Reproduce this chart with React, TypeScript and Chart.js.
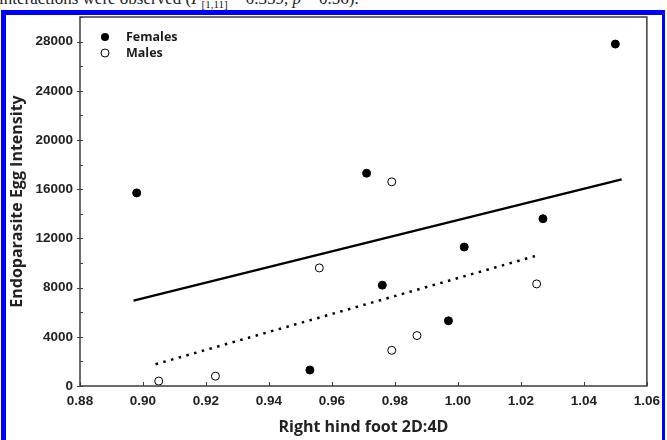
import React, { useEffect, useRef } from 'react';
import { Chart, registerables } from 'chart.js';
Chart.register(...registerables);

// Data
const femaleX = [0.898, 0.971, 1.05, 1.002, 0.976, 0.997, 0.953, 1.027];
const femaleY = [15700, 17300, 27800, 11300, 8200, 5300, 1300, 13600];
const maleX = [0.905, 0.923, 0.956, 0.979, 0.979, 0.987, 1.025];
const maleY = [400, 800, 9600, 16600, 2900, 4100, 8300];
const femaleFitX = [0.897, 1.052];
const femaleFitY = [6940, 16800];
const maleFitX = [0.904, 1.0245];
const maleFitY = [1770, 10560];
const yLabelValues = [0, 4000, 8000, 12000, 16000, 20000, 24000, 28000];
const xLabelValues = [0.88, 0.9, 0.92, 0.94, 0.96, 0.98, 1.0, 1.02, 1.04, 1.06];
const legendLabels = ['Females', 'Males'];

const zip = (xs: number[], ys: number[]) => xs.map((x, i) => ({ x, y: ys[i] }));

const framePlugin = {
  id: 'frame',
  afterDraw(chart: any) {
    const { ctx, chartArea: a, scales } = chart;
    const x = scales.x;
    const y = scales.y;
    ctx.save();
    ctx.strokeStyle = '#3c3c3c';
    ctx.lineWidth = 1.5;
    ctx.strokeRect(a.left, a.top, a.right - a.left, a.bottom - a.top);
    ctx.lineWidth = 1;
    ctx.beginPath();
    x.ticks.forEach((t: any, i: number) => {
      const px = Math.round(x.getPixelForTick(i)) + 0.5;
      ctx.moveTo(px, a.bottom);
      ctx.lineTo(px, a.bottom - 4);
    });
    y.ticks.forEach((t: any, i: number) => {
      const py = Math.round(y.getPixelForTick(i)) + 0.5;
      const major = yLabelValues.includes(t.value);
      ctx.moveTo(a.left - (major ? 3 : 0), py);
      ctx.lineTo(a.left + 3, py);
    });
    ctx.stroke();
    // legend
    const lx = a.left + 25;
    const ly = a.top + 20;
    ctx.font = 'bold 12.5px "Open Sans"';
    ctx.textBaseline = 'middle';
    ctx.fillStyle = '#1a1a1a';
    legendLabels.forEach((lab, i) => {
      const yy = ly + i * 16;
      ctx.beginPath();
      ctx.arc(lx, yy, 4, 0, Math.PI * 2);
      if (i === 0) {
        ctx.fillStyle = '#000';
        ctx.fill();
      } else {
        ctx.fillStyle = '#fff';
        ctx.fill();
        ctx.strokeStyle = '#000';
        ctx.lineWidth = 1;
        ctx.stroke();
      }
      ctx.fillStyle = '#1a1a1a';
      ctx.fillText(lab, lx + 21, yy);
    });
    ctx.restore();
  },
};

function ChartView() {
  const ref = useRef<HTMLCanvasElement>(null);
  useEffect(() => {
    if (!ref.current) return;
    const chart = new Chart(ref.current, {
      type: 'scatter',
      data: {
        datasets: [
          {
            label: 'Females fit',
            data: zip(femaleFitX, femaleFitY),
            showLine: true,
            borderColor: '#000',
            borderWidth: 2.5,
            pointRadius: 0,
          },
          {
            label: 'Males fit',
            data: zip(maleFitX, maleFitY),
            showLine: true,
            borderColor: '#000',
            borderWidth: 2.5,
            borderDash: [2.5, 5.5],
            pointRadius: 0,
          },
          {
            label: legendLabels[0],
            data: zip(femaleX, femaleY),
            pointRadius: 4,
            backgroundColor: '#000',
            borderColor: '#000',
            borderWidth: 1,
          },
          {
            label: legendLabels[1],
            data: zip(maleX, maleY),
            pointRadius: 4,
            backgroundColor: '#fff',
            borderColor: '#000',
            borderWidth: 1,
          },
        ],
      } as any,
      options: {
        animation: false,
        responsive: false,
        devicePixelRatio: 1,
        layout: { padding: { top: 17, right: 16, left: 0, bottom: 0 } },
        plugins: { legend: { display: false }, tooltip: { enabled: false } },
        scales: {
          x: {
            type: 'linear',
            min: 0.88,
            max: 1.06,
            afterBuildTicks: (s: any) => {
              s.ticks = xLabelValues.map((v) => ({ value: v }));
            },
            afterFit: (s: any) => {
              s.height = 54;
            },
            grid: { display: false, drawTicks: false },
            border: { display: false },
            ticks: {
              padding: 7,
              color: '#222',
              font: { family: '"Liberation Sans"', size: 13.5, weight: 'bold' },
              callback: (v: any) => Number(v).toFixed(2),
            },
            title: {
              display: true,
              text: 'Right hind foot 2D:4D',
              color: '#222',
              font: { family: '"Open Sans"', size: 16, weight: 'bold' },
              padding: { top: 0, bottom: 3 },
            },
          },
          y: {
            type: 'linear',
            min: 0,
            max: 30000,
            ticks: {
              stepSize: 2000,
              padding: 7,
              color: '#222',
              font: { family: '"Liberation Sans"', size: 13.5, weight: 'bold' },
              callback: (v: any) => (yLabelValues.includes(Number(v)) ? String(v) : ''),
            },
            afterFit: (s: any) => {
              s.width = 80;
            },
            grid: { display: false, drawTicks: false },
            border: { display: false },
            title: {
              display: true,
              text: 'Endoparasite Egg Intensity',
              color: '#222',
              font: { family: '"Open Sans"', size: 16, weight: 'bold' },
              padding: { top: 8, bottom: 0 },
            },
          },
        },
      } as any,
      plugins: [framePlugin],
    });
    return () => chart.destroy();
  }, []);
  return (
    <canvas
      ref={ref}
      width={667}
      height={440}
      style={{ position: 'absolute', left: 0, top: 0, width: 667, height: 440 }}
    />
  );
}

export default function App() {
  return (
    <div
      style={{
        position: 'fixed',
        left: 0,
        top: 0,
        width: 667,
        height: 440,
        overflow: 'hidden',
        background: '#fff',
      }}
    >
      <div
        style={{
          position: 'absolute',
          left: -1,
          top: -11,
          fontFamily: '"Liberation Serif", serif',
          fontSize: 17,
          whiteSpace: 'nowrap',
          color: '#222',
        }}
      >
        interactions were observed (<i>F</i>
        <sub style={{ fontSize: 11 }}>[1,11]</sub> = 0.359, <i>p</i> = 0.56).
      </div>
      <div
        style={{
          position: 'absolute',
          left: 1,
          top: 10,
          width: 656,
          height: 440,
          borderLeft: '5px solid #0000ff',
          borderTop: '5px solid #0000ff',
          borderRight: '3px solid #0000ff',
          background: '#fff',
        }}
      />
      <ChartView />
    </div>
  );
}
